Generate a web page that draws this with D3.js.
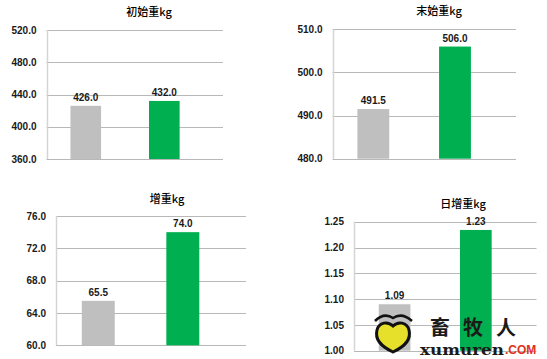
<!DOCTYPE html>
<html>
<head>
<meta charset="utf-8">
<script src="https://cdn.jsdelivr.net/npm/d3@7/dist/d3.min.js"></script>
<style>
html,body{margin:0;padding:0;background:#fff;}
svg{display:block;}
</style>
</head>
<body>
<svg id="chart" width="547" height="359"></svg>
<script>
// ---- data ----
const categories = ["对照组", "试验组"];
const titles = ["初始重kg", "末始重kg", "增重kg", "日增重kg"];
const initialWeight = [426.0, 432.0];
const finalWeight = [491.5, 506.0];
const weightGain = [65.5, 74.0];
const dailyGain = [1.09, 1.234];
const ticksInitial = [360, 400, 440, 480, 520];
const ticksFinal = [480, 490, 500, 510];
const ticksGain = [60, 64, 68, 72, 76];
const ticksDaily = [1.00, 1.05, 1.10, 1.15, 1.20, 1.25];
const barColors = ["#bfbfbf", "#00b050"];

// ---- layout (pixels) ----
const panels = [
  {title: titles[0], values: initialWeight, ticks: ticksInitial, tickFmt: ".1f", labFmt: ".1f",
   left: 46.5, right: 223, top: 30, bottom: 159, tx: 149, ty: 16},
  {title: titles[1], values: finalWeight, ticks: ticksFinal, tickFmt: ".1f", labFmt: ".1f",
   left: 332.5, right: 516, top: 29.3, bottom: 158.7, tx: 439, ty: 15},
  {title: titles[2], values: weightGain, ticks: ticksGain, tickFmt: ".1f", labFmt: ".1f",
   left: 56, right: 246, top: 216, bottom: 345.3, tx: 167, ty: 202.5},
  {title: titles[3], values: dailyGain, ticks: ticksDaily, tickFmt: ".2f", labFmt: ".2f",
   left: 354, right: 536.5, top: 221.7, bottom: 350.7, tx: 463, ty: 207.5}
];

const svg = d3.select("#chart");

panels.forEach(p => {
  const g = svg.append("g");
  const W = p.right - p.left;
  const step = W * 0.445;
  const x = d3.scaleBand().domain(categories)
    .range([p.left, p.left + 2 * step]).paddingInner(0.61).paddingOuter(0.305);
  const y = d3.scaleLinear().domain(d3.extent(p.ticks)).range([p.bottom, p.top]);

  // gridlines
  g.selectAll("line.grid").data(p.ticks).enter().append("line")
    .attr("x1", p.left).attr("x2", p.right)
    .attr("y1", d => Math.round(y(d)) + 0.5).attr("y2", d => Math.round(y(d)) + 0.5)
    .attr("stroke", "#b8b8b8").attr("stroke-width", 1);

  // left axis line
  g.append("line")
    .attr("x1", Math.round(p.left) + 0.5).attr("x2", Math.round(p.left) + 0.5)
    .attr("y1", p.top).attr("y2", p.bottom)
    .attr("stroke", "#d4d4d4").attr("stroke-width", 1.5);

  // y axis labels via d3 axis
  const axis = d3.axisLeft(y).tickValues(p.ticks).tickFormat(d3.format(p.tickFmt))
    .tickSize(0).tickPadding(10);
  const ag = g.append("g").attr("transform", `translate(${p.left},0)`).call(axis);
  ag.select(".domain").remove();
  ag.selectAll("text")
    .attr("font-family", "'Liberation Sans', Arial, sans-serif")
    .attr("font-weight", "bold").attr("font-size", 10).attr("fill", "#1a1a1a");

  // bars
  g.selectAll("rect.bar").data(p.values).enter().append("rect")
    .attr("x", (d, i) => x(categories[i]))
    .attr("width", x.bandwidth())
    .attr("y", d => y(d))
    .attr("height", d => p.bottom - y(d))
    .attr("fill", (d, i) => barColors[i]);

  // value labels
  g.selectAll("text.val").data(p.values).enter().append("text")
    .attr("x", (d, i) => x(categories[i]) + x.bandwidth() / 2)
    .attr("y", d => y(d) - 5)
    .attr("text-anchor", "middle")
    .attr("font-family", "'Liberation Sans', Arial, sans-serif")
    .attr("font-weight", "bold").attr("font-size", 10).attr("fill", "#1a1a1a")
    .text(d => d3.format(p.labFmt)(d));

  // title
  g.append("text")
    .attr("x", p.tx).attr("y", p.ty)
    .attr("text-anchor", "middle")
    .attr("font-family", "'Noto Sans CJK SC', sans-serif")
    .attr("font-weight", 500)
    .attr("font-size", 11).attr("fill", "#000")
    .text(p.title);
});

// ---- watermark ----
const wm = svg.append("g");
// eyebrows
wm.append("path").attr("d", "M375,321 Q384,312 393,318 Q402,312 412,321")
  .attr("fill", "none").attr("stroke", "#111").attr("stroke-width", 2.5);
// heart
wm.append("path")
  .attr("d", "M393,352 C380,346 375,338 377,330 C379,322 388,321 393,326 C398,321 407,322 409,330 C411,338 406,346 393,352 Z")
  .attr("fill", "#e6e02a").attr("stroke", "#111").attr("stroke-width", 3);
wm.append("text").attr("x", 430).attr("y", 335)
  .attr("font-family", "'Noto Sans CJK SC', sans-serif").attr("font-weight", "bold")
  .attr("font-size", 20).attr("letter-spacing", 13).attr("fill", "#1a1a1a")
  .text("畜牧人");
wm.append("text").attr("x", 420).attr("y", 355)
  .attr("font-family", "'DejaVu Serif', serif").attr("font-weight", "bold")
  .attr("font-size", 14).attr("textLength", 84).attr("lengthAdjust", "spacingAndGlyphs")
  .attr("fill", "#1a1a1a").text("xumuren");
wm.append("text").attr("x", 505).attr("y", 354)
  .attr("font-family", "'Liberation Sans', Arial, sans-serif").attr("font-weight", "bold")
  .attr("font-size", 12).attr("fill", "#e0301e").text(".COM");
</script>
</body>
</html>
